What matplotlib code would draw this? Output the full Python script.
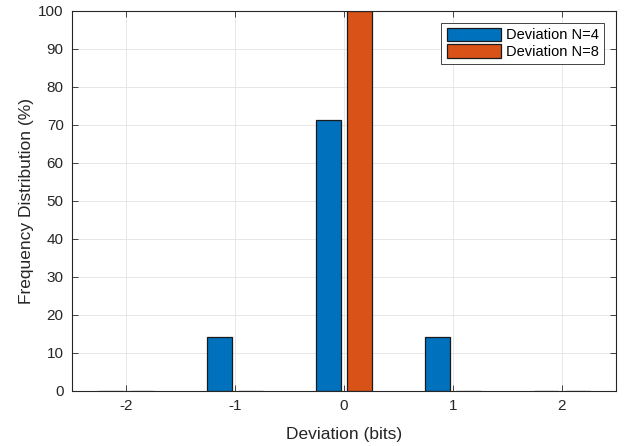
import matplotlib.pyplot as plt
import numpy as np

plt.rcParams['font.family'] = ['Liberation Sans', 'DejaVu Sans']

# data
deviation = [-2, -1, 0, 1, 2]
freq_n4 = [0.0, 14.29, 71.43, 14.29, 0.0]
freq_n8 = [0.0, 0.0, 100.0, 0.0, 0.0]

fig = plt.figure(figsize=(6.34, 4.46), dpi=100)
ax = fig.add_axes([72/634, 1 - 391/446, 544/634, 380/446])

x = np.array(deviation, dtype=float)
w = 0.229
off = 0.143
ax.bar(x - off, freq_n4, width=w, color='#0072BD', edgecolor='#1a1a1a', linewidth=0.9,
       label='Deviation N=4', zorder=3)
ax.bar(x + off, freq_n8, width=w, color='#D95319', edgecolor='#1a1a1a', linewidth=0.9,
       label='Deviation N=8', zorder=3)

ax.set_xlim(-2.5, 2.5)
ax.set_ylim(0, 100)
ax.set_xticks(deviation)
ax.set_xticklabels([str(d) for d in deviation])
ax.set_yticks(np.arange(0, 101, 10))

ax.grid(True, color='#e3e3e3', linewidth=0.6, zorder=0)
ax.set_axisbelow(True)
for s in ax.spines.values():
    s.set_color('#262626')
    s.set_linewidth(0.8)
    s.set_zorder(4)
ax.tick_params(direction='in', length=4, width=0.6, colors='#262626', labelsize=11,
               top=True, right=True, pad=6)

ax.set_xlabel('Deviation (bits)', fontsize=12.5, color='#262626', labelpad=10)
ax.set_ylabel('Frequency Distribution (%)', fontsize=12.5, color='#262626', labelpad=3)

leg = ax.legend(loc='upper right', fontsize=10.5, fancybox=False, framealpha=1,
                edgecolor='#262626', borderaxespad=0.8, handlelength=3.7,
                handleheight=1.0, handletextpad=0.4, borderpad=0.35, labelspacing=0.15)
leg.get_frame().set_linewidth(0.6)

fig.savefig('out.png', dpi=100)
